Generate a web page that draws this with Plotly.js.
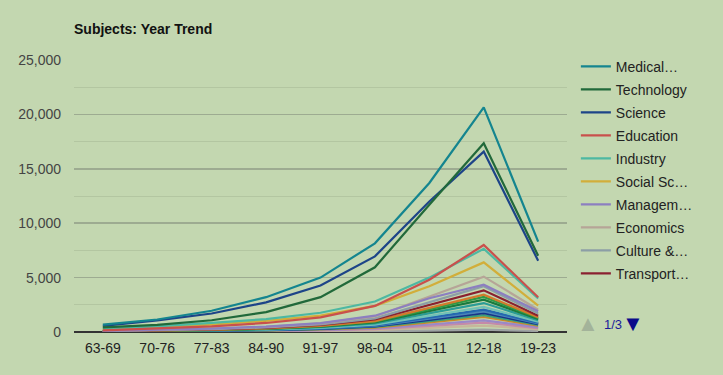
<!DOCTYPE html>
<html>
<head>
<meta charset="utf-8">
<script src="https://cdn.plot.ly/plotly-3.0.1.min.js"></script>
<style>
html,body{margin:0;padding:0;background:#C3D7B0;}
#chart{width:723px;height:375px;}
</style>
</head>
<body>
<div id="chart"></div>
<script>
const categories = ['63-69','70-76','77-83','84-90','91-97','98-04','05-11','12-18','19-23'];

const medical    = [680, 1150, 1950, 3200, 5000, 8150, 13700, 20650, 8300];
const technology = [420, 650, 1080, 1830, 3200, 5950, 11700, 17350, 7000];
const science    = [560, 1070, 1700, 2720, 4280, 6950, 12000, 16580, 6550];
const education  = [150, 330, 520, 830, 1350, 2400, 4800, 8000, 3200];
const industry   = [330, 520, 830, 1190, 1770, 2800, 5000, 7650, 3080];
const socialSc   = [280, 440, 670, 1030, 1500, 2400, 4200, 6400, 2420];
const management = [110, 190, 310, 500, 820, 1500, 3100, 4350, 1900];
const economics  = [100, 180, 300, 480, 800, 1430, 3250, 5090, 2050];
const culture    = [90, 160, 260, 420, 700, 1250, 2700, 4200, 1700];
const transport  = [80, 140, 230, 380, 650, 1150, 2500, 3830, 1500];

const agriculture = [70, 120, 200, 330, 560, 1000, 2200, 3430, 1350];
const environment = [60, 110, 190, 310, 530, 950, 2050, 3220, 1280];
const energy      = [60, 100, 170, 290, 490, 880, 1900, 2970, 1200];
const law         = [50, 90, 150, 260, 440, 790, 1700, 2660, 1080];
const arts        = [40, 80, 130, 220, 380, 680, 1480, 2300, 950];
const history     = [40, 70, 120, 200, 340, 610, 1320, 2050, 850];
const language    = [35, 65, 110, 190, 320, 570, 1220, 1900, 790];
const philosophy  = [30, 60, 100, 170, 290, 520, 1120, 1740, 720];
const politics    = [30, 55, 90, 150, 260, 460, 990, 1550, 650];
const sports      = [30, 50, 80, 130, 230, 410, 880, 1380, 580];
const geography   = [20, 40, 60, 100, 180, 320, 690, 1070, 450];
const military    = [15, 30, 50, 80, 140, 260, 550, 860, 360];
const religion    = [10, 20, 35, 55, 95, 170, 370, 580, 250];
const mathematics = [5, 8, 12, 20, 35, 60, 130, 210, 90];

const legendNames = ['Medical…','Technology','Science','Education','Industry','Social Sc…','Managem…','Economics','Culture &…','Transport…'];
const otherNames = ['Agriculture','Environment','Energy','Law','Arts','History','Language','Philosophy','Politics','Sports','Geography','Military','Religion','Mathematics'];

const mainSeries = [medical, technology, science, education, industry, socialSc, management, economics, culture, transport];
const otherSeries = [agriculture, environment, energy, law, arts, history, language, philosophy, politics, sports, geography, military, religion, mathematics];

const mainColors = ['#14858F','#21693A','#1D4488','#C9504C','#4DB8A2','#D2AE3A','#8C7FC0','#B6A597','#8C9EA6','#8A2030'];
const otherColors = ['#D27A2C','#2E9A46','#1A7A3E','#2A9C96','#70C2B6','#2468B0','#4A86B8','#17348A','#3BA07A','#C9892A','#9A88C8','#C58AA8','#C6B69A','#9DA3A3'];

const traces = [];
otherSeries.slice().reverse().forEach((s, i) => {
  const idx = otherSeries.length - 1 - i;
  traces.push({
    x: categories, y: s, type: 'scatter', mode: 'lines',
    name: otherNames[idx], line: {color: otherColors[idx], width: 2.2},
    showlegend: false, hoverinfo: 'skip'
  });
});
const mainTraces = mainSeries.map((s, i) => ({
  x: categories, y: s, type: 'scatter', mode: 'lines',
  name: legendNames[i], legendgroup: 'g' + i, legendrank: i + 1,
  line: {color: mainColors[i], width: 2.2}
}));
mainTraces.slice().reverse().forEach(t => traces.push(t));

const layout = {
  width: 723, height: 375,
  paper_bgcolor: '#C3D7B0', plot_bgcolor: '#C3D7B0',
  margin: {l: 74, r: 156, t: 60, b: 43},
  font: {family: 'Arial, Liberation Sans, sans-serif', size: 14, color: '#222'},
  title: {
    text: '<b>Subjects: Year Trend</b>',
    font: {size: 14, color: '#111'},
    xref: 'container', x: 74 / 723, xanchor: 'left',
    yref: 'container', y: 1 - 29 / 375, yanchor: 'middle'
  },
  xaxis: {
    type: 'category', range: [-0.53, 8.53],
    showgrid: false, zeroline: false, showline: false,
    ticks: '', ticklabelstandoff: 6, tickfont: {size: 14, color: '#222'}
  },
  yaxis: {
    range: [0, 25000], dtick: 5000, tickformat: ',d',
    showgrid: true, gridcolor: '#9DAB91', gridwidth: 1.6,
    minor: {dtick: 2500, showgrid: true, gridcolor: '#B3C6A1', gridwidth: 1},
    zeroline: true, zerolinecolor: '#333', zerolinewidth: 1.5,
    showline: false, ticks: '', ticklabelstandoff: 12,
    tickfont: {size: 14, color: '#444'}
  },
  showlegend: true,
  legend: {
    x: 1.018, xanchor: 'left', y: 1.034, yanchor: 'top',
    bgcolor: 'rgba(0,0,0,0)', borderwidth: 0,
    font: {size: 14, color: '#222'},
    traceorder: 'grouped', tracegroupgap: 1.8, maxheight: 320
  },
  annotations: [
    {xref: 'paper', yref: 'paper', x: 1.043, y: 0.03, xanchor: 'center', yanchor: 'middle',
     text: '▲', showarrow: false, font: {size: 22, color: '#A3B39A'}},
    {xref: 'paper', yref: 'paper', x: 1.071, y: 0.026, xanchor: 'left', yanchor: 'middle',
     text: '1/3', showarrow: false, font: {size: 13, color: '#1A1A9A'}},
    {xref: 'paper', yref: 'paper', x: 1.134, y: 0.03, xanchor: 'center', yanchor: 'middle',
     text: '▼', showarrow: false, font: {size: 22, color: '#0A0A8A'}}
  ]
};

Plotly.newPlot('chart', traces, layout, {displayModeBar: false, staticPlot: true});
</script>
</body>
</html>
